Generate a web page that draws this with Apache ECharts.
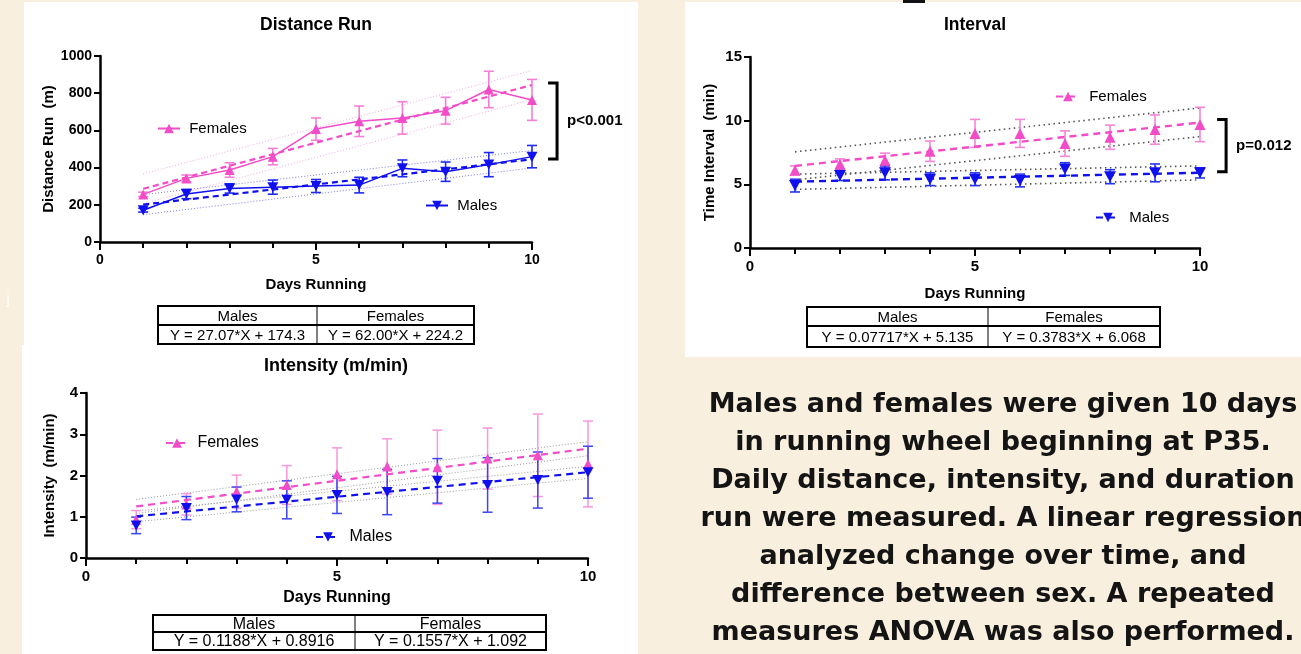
<!DOCTYPE html>
<html><head><meta charset="utf-8">
<script src="https://cdn.jsdelivr.net/npm/echarts@6/dist/echarts.min.js"></script>
<style>html,body{margin:0;padding:0;background:#F9EFDE;}#c{width:1301px;height:654px;}</style>
</head><body><div id="c"></div>
<script>
// ---------- DATA ----------
const days = [1,2,3,4,5,6,7,8,9,10];

// Distance Run (m)
const distFemaleMean = [256,342,387,459,607,649,667,706,820,764];
const distFemaleSem  = [12,18,39,44,60,82,87,72,98,110];
const distMaleMean   = [171,258,288,295,301,306,396,378,416,459];
const distMaleSem    = [10,25,25,38,35,42,45,52,65,60];
const distFemaleFit    = [[1,286],[10,844]];
const distMaleFit      = [[1,201],[10,445]];
const distFemaleBandHi = [[1,366],[10,922]];
const distFemaleBandLo = [[1,206],[10,766]];
const distMaleBandHi   = [[1,255],[10,492]];
const distMaleBandLo   = [[1,147],[10,398]];

// Interval (min)
const intvFemaleMean = [6.1,6.6,6.9,7.6,9.0,9.0,8.2,8.7,9.3,9.7];
const intvFemaleSem  = [0.35,0.4,0.55,0.8,1.1,1.1,1.0,0.95,1.15,1.35];
const intvMaleMean   = [4.9,5.7,5.9,5.4,5.4,5.3,6.2,5.6,5.9,5.9];
const intvMaleSem    = [0.5,0.4,0.55,0.5,0.5,0.5,0.5,0.55,0.7,0.4];
const intvFemaleFit    = [[1,6.45],[10,9.85]];
const intvMaleFit      = [[1,5.21],[10,5.91]];
const intvFemaleBandHi = [[1,7.55],[10,11.0]];
const intvFemaleBandLo = [[1,5.35],[10,8.75]];
const intvMaleBandHi   = [[1,5.8],[10,6.45]];
const intvMaleBandLo   = [[1,4.6],[10,5.35]];

// Intensity (m/min)
const intsFemaleMean = [0.93,1.30,1.61,1.77,2.03,2.22,2.20,2.41,2.49,2.28];
const intsFemaleSem  = [0.22,0.26,0.4,0.47,0.64,0.67,0.9,0.74,1.0,1.04];
const intsMaleMean   = [0.79,1.21,1.42,1.41,1.53,1.60,1.87,1.77,1.89,2.08];
const intsMaleSem    = [0.2,0.28,0.3,0.46,0.45,0.55,0.54,0.66,0.68,0.63];
const intsFemaleFit    = [[1,1.25],[10,2.65]];
const intsMaleFit      = [[1,1.01],[10,2.08]];
const intsFemaleBandHi = [[1,1.42],[10,2.82]];
const intsFemaleBandLo = [[1,1.08],[10,2.48]];
const intsMaleBandHi   = [[1,1.14],[10,2.22]];
const intsMaleBandLo   = [[1,0.88],[10,1.93]];

// Texts
const chartTitles = ['Distance Run','Interval','Intensity (m/min)'];
const yNames = ['Distance Run  (m)','Time Interval  (min)','Intensity  (m/min)'];
const xName = 'Days Running';
const legendNames = ['Females','Males'];
const tableHeads = ['Males','Females'];
const distEq = ['Y = 27.07*X + 174.3','Y = 62.00*X + 224.2'];
const intvEq = ['Y = 0.07717*X + 5.135','Y = 0.3783*X + 6.068'];
const intsEq = ['Y = 0.1188*X + 0.8916','Y = 0.1557*X + 1.092'];
const pTexts = ['p<0.001','p=0.012'];
// bracket anchors in data units [x, yTop, yBottom]
const distBracket = [10.58, 855, 446];
const intvBracket = [10.58, 10.1, 5.98];
const paragraph = [
  'Males and females were given 10 days',
  'in running wheel beginning at P35.',
  'Daily distance, intensity, and duration',
  'run were measured. A linear regression',
  'analyzed change over time, and',
  'difference between sex. A repeated',
  'measures ANOVA was also performed.'
];

// ---------- STYLE ----------
const PINK = '#F34CC8', BLUE = '#1010EE';
const FONT = '"Liberation Sans", Arial, sans-serif';
const downTri = 'path://M0,0L20,0L10,18Z';

function errData(mean, sem){ return days.map((d,i)=>[d, mean[i]-sem[i], mean[i]+sem[i]]); }
function pts(mean){ return days.map((d,i)=>[d, mean[i]]); }
function errRender(color, cap, lw){
  return function(params, api){
    const x = api.value(0);
    const a = api.coord([x, api.value(1)]), b = api.coord([x, api.value(2)]);
    const st = {stroke: color, lineWidth: lw, fill: null};
    return {type:'group', children:[
      {type:'line', shape:{x1:a[0],y1:a[1],x2:b[0],y2:b[1]}, style:st},
      {type:'line', shape:{x1:a[0]-cap,y1:a[1],x2:a[0]+cap,y2:a[1]}, style:st},
      {type:'line', shape:{x1:b[0]-cap,y1:b[1],x2:b[0]+cap,y2:b[1]}, style:st}
    ]};
  };
}
function xAxis(g, fs, nfs, nameGap){
  return {gridIndex:g, type:'value', min:0, max:10, interval:5,
    name:xName, nameLocation:'middle', nameGap:nameGap,
    nameTextStyle:{fontFamily:FONT, fontWeight:'bold', fontSize:nfs, color:'#000'},
    axisLine:{show:true, onZero:false, lineStyle:{color:'#000', width:2.5}},
    axisTick:{show:true, length:8, lineStyle:{color:'#000', width:2}},
    minorTick:{show:true, splitNumber:5, length:6, lineStyle:{color:'#000', width:2}},
    splitLine:{show:false}, minorSplitLine:{show:false},
    axisLabel:{fontFamily:FONT, fontWeight:'bold', fontSize:fs, color:'#000', margin:11,
      formatter:function(v){ return String(v); }}};
}
function yAxis(g, max, interval, name, fs, nfs, nameGap){
  return {gridIndex:g, type:'value', min:0, max:max, interval:interval,
    name:name, nameLocation:'middle', nameGap:nameGap,
    nameTextStyle:{fontFamily:FONT, fontWeight:'bold', fontSize:nfs, color:'#000'},
    axisLine:{show:true, lineStyle:{color:'#000', width:2.5}},
    axisTick:{show:true, length:6, lineStyle:{color:'#000', width:2}},
    splitLine:{show:false},
    axisLabel:{fontFamily:FONT, fontWeight:'bold', fontSize:fs, color:'#000', margin:8,
      formatter:function(v){ return String(v); }}};
}
function lineS(name, g, data, color, type, width, z, extra){
  return Object.assign({name:name, type:'line', xAxisIndex:g, yAxisIndex:g, data:data,
    symbol:'none', showSymbol:false, silent:true,
    lineStyle:{color:color, type:type, width:width}, itemStyle:{color:color}, z:z}, extra||{});
}
function errS(g, mean, sem, color, cap, lw){
  return {type:'custom', xAxisIndex:g, yAxisIndex:g, data:errData(mean, sem),
    encode:{x:0, y:[1,2]}, renderItem:errRender(color, cap, lw), silent:true, z:3};
}

const series = [
  // Distance run
  lineS('bF0', 0, distFemaleBandHi, '#F7A6E2', [1,2], 1, 1),
  lineS('bF1', 0, distFemaleBandLo, '#F7A6E2', [1,2], 1, 1),
  lineS('bM0', 0, distMaleBandHi, '#7B7BF3', [1,2], 1, 1),
  lineS('bM1', 0, distMaleBandLo, '#7B7BF3', [1,2], 1, 1),
  errS(0, distFemaleMean, distFemaleSem, '#F57FD6', 5, 1.6),
  errS(0, distMaleMean, distMaleSem, '#1E2AF0', 5, 1.6),
  lineS('fF0', 0, distFemaleFit, PINK, [6,4], 2.2, 4),
  lineS('fM0', 0, distMaleFit, BLUE, [6,4], 2.2, 4),
  lineS('distF', 0, pts(distFemaleMean), PINK, 'solid', 1.5, 5, {symbol:'triangle', showSymbol:true, symbolSize:10}),
  lineS('distM', 0, pts(distMaleMean), BLUE, 'solid', 1.5, 5, {symbol:downTri, showSymbol:true, symbolSize:[11,10]}),
  // Interval
  lineS('ibF0', 1, intvFemaleBandHi, '#555', [1.5,3.5], 1.6, 1),
  lineS('ibF1', 1, intvFemaleBandLo, '#555', [1.5,3.5], 1.6, 1),
  lineS('ibM0', 1, intvMaleBandHi, '#555', [1.5,3.5], 1.6, 1),
  lineS('ibM1', 1, intvMaleBandLo, '#555', [1.5,3.5], 1.6, 1),
  errS(1, intvFemaleMean, intvFemaleSem, '#F586D8', 5, 1.6),
  errS(1, intvMaleMean, intvMaleSem, '#2435F0', 5, 1.6),
  lineS('intvF', 1, intvFemaleFit, PINK, [7,5], 2.4, 4, {symbol:'triangle'}),
  lineS('intvM', 1, intvMaleFit, BLUE, [7,5], 2.4, 4, {symbol:downTri}),
  {type:'scatter', xAxisIndex:1, yAxisIndex:1, data:pts(intvFemaleMean), symbol:'triangle', symbolSize:11, itemStyle:{color:PINK, opacity:1}, silent:true, z:5},
  {type:'scatter', xAxisIndex:1, yAxisIndex:1, data:pts(intvMaleMean), symbol:downTri, symbolSize:[12,11], itemStyle:{color:BLUE, opacity:1}, silent:true, z:5},
  // Intensity
  lineS('sbF0', 2, intsFemaleBandHi, '#999', [1,2], 1, 1),
  lineS('sbF1', 2, intsFemaleBandLo, '#999', [1,2], 1, 1),
  lineS('sbM0', 2, intsMaleBandHi, '#999', [1,2], 1, 1),
  lineS('sbM1', 2, intsMaleBandLo, '#999', [1,2], 1, 1),
  errS(2, intsFemaleMean, intsFemaleSem, '#F797DD', 5, 1.5),
  errS(2, intsMaleMean, intsMaleSem, '#3C45F2', 5, 1.5),
  lineS('intsF', 2, intsFemaleFit, PINK, [7,5], 2.2, 4, {symbol:'triangle'}),
  lineS('intsM', 2, intsMaleFit, BLUE, [7,5], 2.2, 4, {symbol:downTri}),
  {type:'scatter', xAxisIndex:2, yAxisIndex:2, data:pts(intsFemaleMean), symbol:'triangle', symbolSize:10, itemStyle:{color:PINK, opacity:1}, silent:true, z:5},
  {type:'scatter', xAxisIndex:2, yAxisIndex:2, data:pts(intsMaleMean), symbol:downTri, symbolSize:[11,10], itemStyle:{color:BLUE, opacity:1}, silent:true, z:5}
];

function legend(name, label, left, top, fs, w){
  return {data:[name], left:left, top:top, itemWidth:w, itemHeight:12, selectedMode:false,
    formatter:function(){ return ' ' + label; },
    textStyle:{fontFamily:FONT, fontSize:fs, color:'#000'}};
}

const chart = echarts.init(document.getElementById('c'), null, {renderer:'canvas'});
const base = {
  animation:false,
  backgroundColor:'#F9EFDE',
  grid:[
    {left:100, top:56, width:432, height:186},
    {left:750, top:57, width:450, height:191},
    {left:86, top:393, width:502, height:165}
  ],
  xAxis:[xAxis(0,14,15,35), xAxis(1,15,15,38), xAxis(2,15,16,32)],
  yAxis:[yAxis(0,1000,200,yNames[0],14,15,44), yAxis(1,15,5,yNames[1],15,15,33), yAxis(2,4,1,yNames[2],15,15,29)],
  legend:[
    legend('distF', legendNames[0], 152, 116, 15, 22),
    legend('distM', legendNames[1], 420, 193, 15, 22),
    legend('intvF', legendNames[0], 1050, 84, 15, 24),
    legend('intvM', legendNames[1], 1090, 205, 15, 24),
    legend('intsF', legendNames[0], 160, 430, 16, 22),
    legend('intsM', legendNames[1], 310, 524, 16, 24)
  ],
  series:series
};
chart.setOption(base);

function txt(x, y, s, fs, weight, align, extra){
  return Object.assign({type:'text', x:x, y:y, z:10, silent:true,
    style:{text:s, fontFamily:FONT, fontSize:fs, fontWeight:weight||'normal', fill:'#000',
      align:align||'center', verticalAlign:'middle'}}, extra||{});
}
function table(x0, xm, x1, y0, ym, y1, eq, fs){
  const w = x1-x0, h = y1-y0;
  return [
    {type:'rect', z:9, shape:{x:x0, y:y0, width:w, height:h}, style:{fill:'#fff', stroke:'#000', lineWidth:2}},
    {type:'line', z:10, shape:{x1:x0, y1:ym, x2:x1, y2:ym}, style:{stroke:'#000', lineWidth:2}},
    {type:'line', z:10, shape:{x1:xm, y1:y0, x2:xm, y2:y1}, style:{stroke:'#000', lineWidth:1}},
    txt((x0+xm)/2, (y0+ym)/2+1, tableHeads[0], fs),
    txt((xm+x1)/2, (y0+ym)/2+1, tableHeads[1], fs),
    txt((x0+xm)/2, (ym+y1)/2+1, eq[0], fs),
    txt((xm+x1)/2, (ym+y1)/2+1, eq[1], fs)
  ];
}
function bracket(g, b, label){
  const top = chart.convertToPixel({gridIndex:g}, [b[0], b[1]]);
  const bot = chart.convertToPixel({gridIndex:g}, [b[0], b[2]]);
  const st = {stroke:'#000', lineWidth:3, fill:null};
  return [
    {type:'polyline', z:10, shape:{points:[[top[0]-9, top[1]],[top[0], top[1]],[bot[0], bot[1]],[bot[0]-9, bot[1]]]}, style:st},
    txt(top[0]+10, (top[1]+bot[1])/2, label, 15, 'bold', 'left')
  ];
}

const graphic = [
  {type:'rect', z:-10, silent:true, shape:{x:24, y:2, width:614, height:343}, style:{fill:'#fff'}},
  {type:'rect', z:-10, silent:true, shape:{x:22, y:345, width:616, height:309}, style:{fill:'#fff'}},
  {type:'rect', z:-10, silent:true, shape:{x:685, y:2, width:616, height:355}, style:{fill:'#fff'}},
  {type:'rect', z:-9, silent:true, shape:{x:903, y:0, width:22, height:3}, style:{fill:'#111'}},
  {type:'text', z:10, silent:true, x:8, y:300, style:{text:'j', fill:'#fff', fontSize:14, fontFamily:FONT, align:'center', verticalAlign:'middle'}},
  txt(316, 25, chartTitles[0], 17.5, 'bold'),
  txt(975, 25, chartTitles[1], 17.5, 'bold'),
  txt(336, 366, chartTitles[2], 18, 'bold'),
  {type:'text', z:10, silent:true, x:1003, y:386,
    style:{text:paragraph.join('\n'), fontFamily:'"DejaVu Sans", sans-serif', fontWeight:'bold', fontSize:27,
      lineHeight:38, fill:'#141414', align:'center', verticalAlign:'top'}}
].concat(
  table(158, 317, 474, 306, 325, 344, distEq, 15),
  table(807, 988, 1160, 307, 326, 347, intvEq, 15),
  table(153, 355, 546, 615, 632, 650, intsEq, 16),
  bracket(0, distBracket, pTexts[0]),
  bracket(1, intvBracket, pTexts[1])
);
chart.setOption({graphic:graphic});
</script></body></html>
